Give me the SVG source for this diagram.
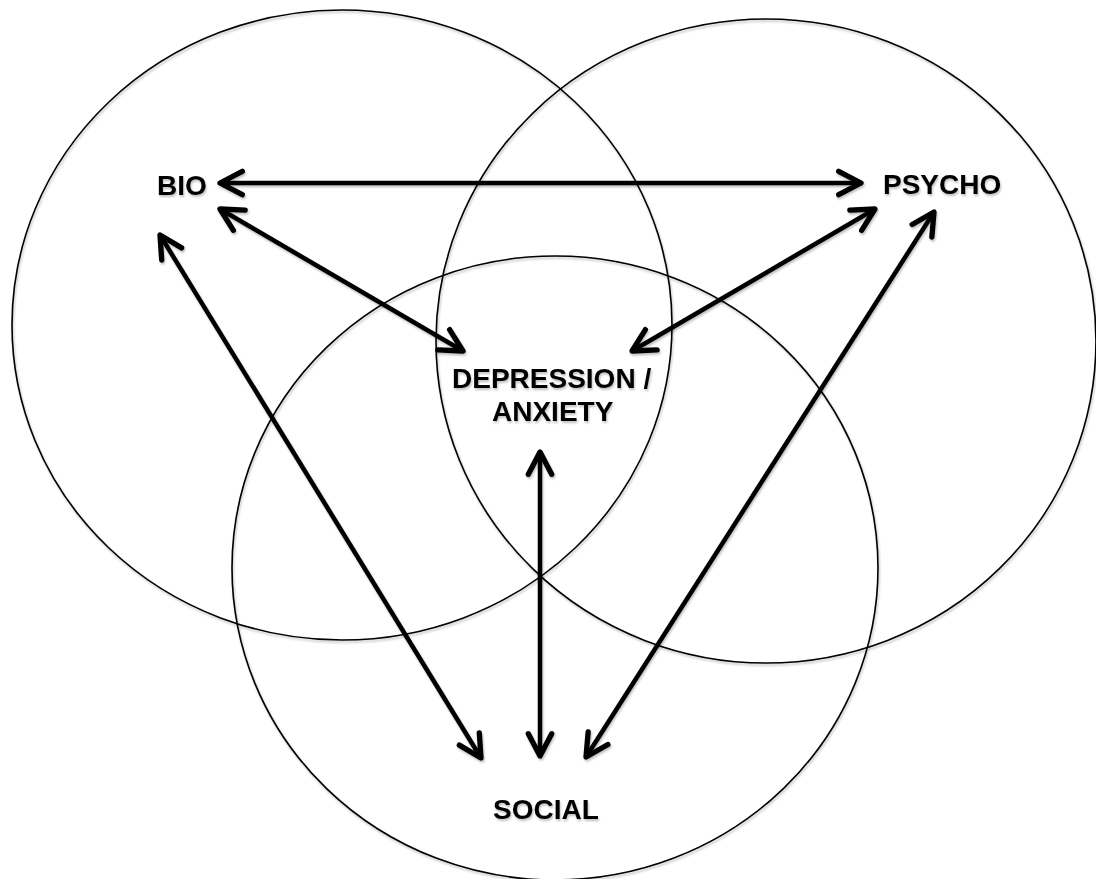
<svg xmlns="http://www.w3.org/2000/svg" width="1096" height="879" viewBox="0 0 1096 879">
<defs>
<filter id="sh" x="-10%" y="-10%" width="120%" height="120%">
<feDropShadow dx="1" dy="2" stdDeviation="1.2" flood-color="#000" flood-opacity="0.25"/>
</filter>
<marker id="ah" markerUnits="userSpaceOnUse" markerWidth="34" markerHeight="34" viewBox="-26 -16 32 32" refX="0" refY="0" orient="auto-start-reverse">
<path d="M -21 -11 L 0 0 L -21 11" fill="none" stroke="#000" stroke-width="5" stroke-linecap="round" stroke-linejoin="round"/>
</marker>
<style>
.ring{fill:none;stroke:#000;stroke-width:1.6}
.conn{fill:none;stroke:#000;stroke-width:4.5;marker-start:url(#ah);marker-end:url(#ah)}
.lbl{font-family:"Liberation Sans",Arial,sans-serif;font-weight:bold;font-size:28px;fill:#000}
</style>
</defs>
<rect width="1096" height="879" fill="#fff"/>
<g id="circles" filter="url(#sh)">
<ellipse id="circle-bio" class="ring" cx="342" cy="325" rx="330" ry="315"/>
<ellipse id="circle-psycho" class="ring" cx="766" cy="341" rx="330" ry="322"/>
<ellipse id="circle-social" class="ring" cx="555" cy="568" rx="323" ry="312"/>
</g>
<g id="connectors" filter="url(#sh)">
<line class="conn" x1="220" y1="183" x2="861" y2="183"/>
<line class="conn" x1="220" y1="209" x2="463" y2="351"/>
<line class="conn" x1="875" y1="209" x2="632" y2="351"/>
<line class="conn" x1="160" y1="235" x2="481" y2="758"/>
<line class="conn" x1="934" y1="212" x2="586" y2="757"/>
<line class="conn" x1="540" y1="452" x2="540" y2="756"/>
</g>
<g id="node-bio" filter="url(#sh)"><text class="lbl" x="157" y="195">BIO</text></g>
<g id="node-psycho" filter="url(#sh)"><text class="lbl" x="883" y="194">PSYCHO</text></g>
<g id="node-depression" filter="url(#sh)"><text class="lbl" x="452" y="388">DEPRESSION /</text><text class="lbl" x="492" y="421">ANXIETY</text></g>
<g id="node-social" filter="url(#sh)"><text class="lbl" x="493" y="819">SOCIAL</text></g>
</svg>
